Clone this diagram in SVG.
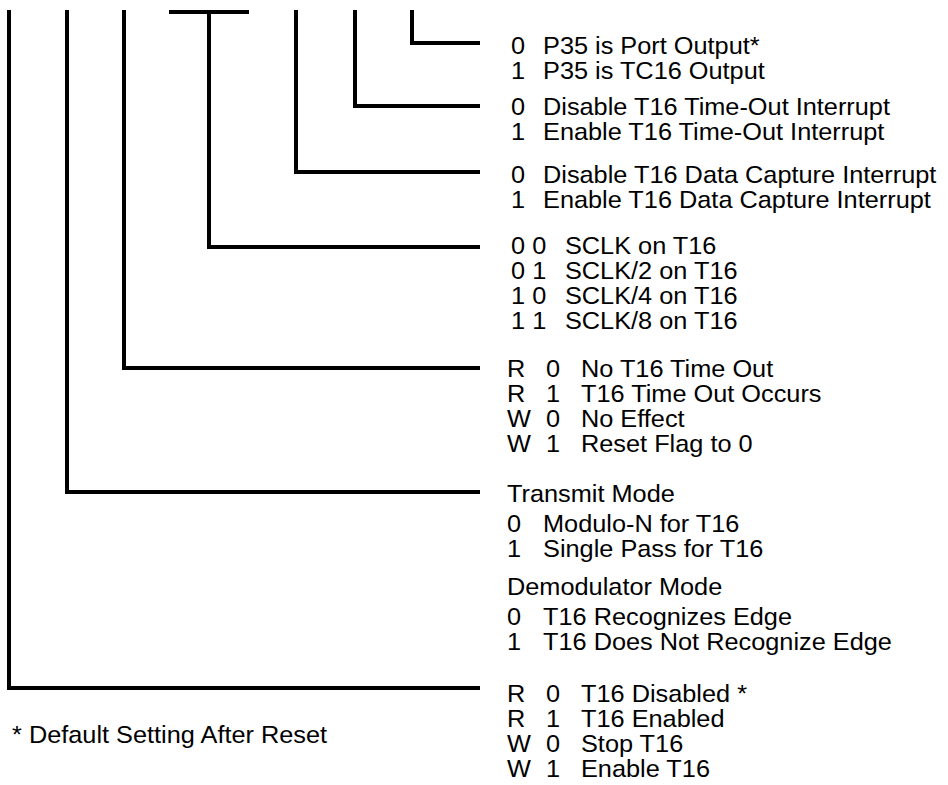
<svg xmlns="http://www.w3.org/2000/svg" width="948" height="785" viewBox="0 0 948 785">
<style>
  text { font-family: "Liberation Sans", Arial, sans-serif; font-size: 24px; fill: #000; }
  .wire { fill: none; stroke: #000; stroke-width: 4; stroke-linejoin: miter; stroke-linecap: butt; }
</style>
<rect width="948" height="785" fill="#fff"/>
<g id="connectors">
  <path class="wire" d="M412,10 V43 H480"/>
  <path class="wire" d="M355,10 V106 H480"/>
  <path class="wire" d="M296,10 V172 H480"/>
  <path class="wire" d="M169,12 H249"/>
  <path class="wire" d="M209,12 V247 H480"/>
  <path class="wire" d="M124,10 V368 H480"/>
  <path class="wire" d="M67,10 V492 H480"/>
  <path class="wire" d="M9,10 V688 H480"/>
</g>
<g transform="scale(1.055,1)">
<g id="bit-p35">
  <text x="484.4" y="54">0</text><text x="514.7" y="54">P35 is Port Output*</text>
  <text x="484.4" y="79">1</text><text x="514.7" y="79">P35 is TC16 Output</text>
</g>
<g id="bit-timeout-int">
  <text x="484.4" y="115">0</text><text x="514.7" y="115">Disable T16 Time-Out Interrupt</text>
  <text x="484.4" y="140">1</text><text x="514.7" y="140">Enable T16 Time-Out Interrupt</text>
</g>
<g id="bit-capture-int">
  <text x="484.4" y="183">0</text><text x="514.7" y="183">Disable T16 Data Capture Interrupt</text>
  <text x="484.4" y="208">1</text><text x="514.7" y="208">Enable T16 Data Capture Interrupt</text>
</g>
<g id="bits-sclk">
  <text x="484.4" y="254">0 0</text><text x="535.5" y="254">SCLK on T16</text>
  <text x="484.4" y="279">0 1</text><text x="535.5" y="279">SCLK/2 on T16</text>
  <text x="484.4" y="304">1 0</text><text x="535.5" y="304">SCLK/4 on T16</text>
  <text x="484.4" y="329">1 1</text><text x="535.5" y="329">SCLK/8 on T16</text>
</g>
<g id="bit-timeout-flag">
  <text x="480.6" y="377">R</text><text x="517.5" y="377">0</text><text x="550.7" y="377">No T16 Time Out</text>
  <text x="480.6" y="402">R</text><text x="517.5" y="402">1</text><text x="550.7" y="402">T16 Time Out Occurs</text>
  <text x="480.6" y="427">W</text><text x="517.5" y="427">0</text><text x="550.7" y="427">No Effect</text>
  <text x="480.6" y="452">W</text><text x="517.5" y="452">1</text><text x="550.7" y="452">Reset Flag to 0</text>
</g>
<g id="bit-mode">
  <text x="480.6" y="502">Transmit Mode</text>
  <text x="480.6" y="532">0</text><text x="514.7" y="532">Modulo-N for T16</text>
  <text x="480.6" y="557">1</text><text x="514.7" y="557">Single Pass for T16</text>
  <text x="480.6" y="595">Demodulator Mode</text>
  <text x="480.6" y="625">0</text><text x="514.7" y="625">T16 Recognizes Edge</text>
  <text x="480.6" y="650">1</text><text x="514.7" y="650">T16 Does Not Recognize Edge</text>
</g>
<g id="bit-enable">
  <text x="480.6" y="702">R</text><text x="517.5" y="702">0</text><text x="550.7" y="702">T16 Disabled *</text>
  <text x="480.6" y="727">R</text><text x="517.5" y="727">1</text><text x="550.7" y="727">T16 Enabled</text>
  <text x="480.6" y="752">W</text><text x="517.5" y="752">0</text><text x="550.7" y="752">Stop T16</text>
  <text x="480.6" y="777">W</text><text x="517.5" y="777">1</text><text x="550.7" y="777">Enable T16</text>
</g>
<g id="footnote">
  <text x="11.4" y="743">* Default Setting After Reset</text>
</g>
</g>
</svg>
